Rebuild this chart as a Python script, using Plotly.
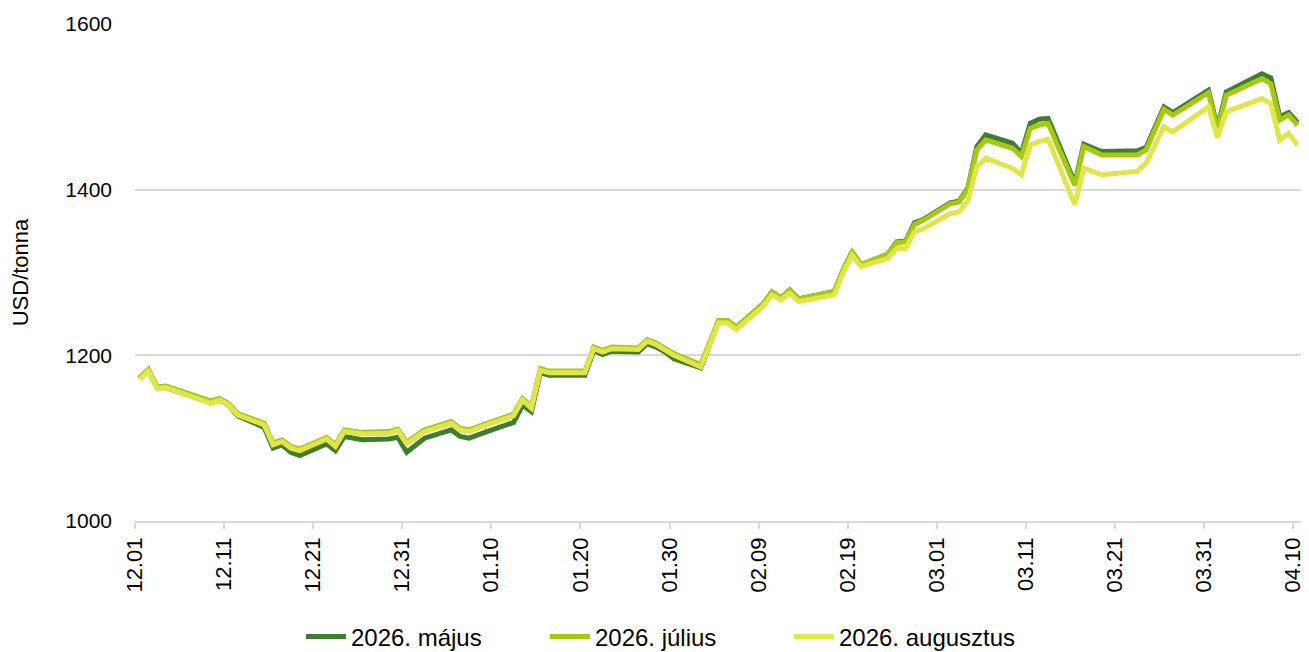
import pandas as pd
import plotly.graph_objects as go

dates = [
    "2025-12-01", "2025-12-02", "2025-12-03", "2025-12-04", "2025-12-09", "2025-12-10",
    "2025-12-11", "2025-12-12", "2025-12-15", "2025-12-16", "2025-12-17", "2025-12-18",
    "2025-12-19", "2025-12-22", "2025-12-23", "2025-12-24", "2025-12-26", "2025-12-29",
    "2025-12-30", "2025-12-31", "2026-01-02", "2026-01-05", "2026-01-06", "2026-01-07",
    "2026-01-09", "2026-01-12", "2026-01-13", "2026-01-14", "2026-01-15", "2026-01-16",
    "2026-01-20", "2026-01-21", "2026-01-22", "2026-01-23", "2026-01-26", "2026-01-27",
    "2026-01-28", "2026-01-29", "2026-01-30", "2026-02-02", "2026-02-04", "2026-02-05",
    "2026-02-06", "2026-02-09", "2026-02-10", "2026-02-11", "2026-02-12", "2026-02-13",
    "2026-02-17", "2026-02-18", "2026-02-19", "2026-02-20", "2026-02-23", "2026-02-24",
    "2026-02-25", "2026-02-26", "2026-02-27", "2026-03-02", "2026-03-03", "2026-03-04",
    "2026-03-05", "2026-03-06", "2026-03-09", "2026-03-10", "2026-03-11", "2026-03-12",
    "2026-03-13", "2026-03-16", "2026-03-17", "2026-03-19", "2026-03-23", "2026-03-24",
    "2026-03-26", "2026-03-27", "2026-03-31", "2026-04-01", "2026-04-02", "2026-04-06",
    "2026-04-07", "2026-04-08", "2026-04-09", "2026-04-10",
]

majus = [
    1172, 1182, 1161, 1161, 1143, 1146, 1140, 1127, 1113, 1088, 1092, 1083,
    1079, 1093, 1085, 1102, 1098, 1099, 1101, 1083, 1100, 1110, 1102, 1100,
    1108, 1119, 1140, 1132, 1179, 1176, 1176, 1206, 1201, 1205, 1204, 1214,
    1210, 1204, 1196, 1185, 1241, 1242, 1234, 1262, 1276, 1269, 1279, 1268,
    1277, 1303, 1325, 1309, 1322, 1337, 1338, 1360, 1364, 1384, 1386, 1402,
    1452, 1466, 1456, 1444, 1480, 1485, 1486, 1408, 1455, 1446, 1447, 1451,
    1500, 1493, 1520, 1475, 1518, 1540, 1535, 1488, 1493, 1481,
]

julius = [
    1173, 1183, 1162, 1163, 1145, 1148, 1142, 1130, 1118, 1094, 1098, 1090,
    1087, 1101, 1092, 1110, 1107, 1108, 1111, 1095, 1110, 1120, 1112, 1110,
    1118, 1129, 1148, 1138, 1184, 1181, 1181, 1210, 1206, 1210, 1209, 1219,
    1215, 1209, 1202, 1189, 1242, 1242, 1234, 1262, 1277, 1270, 1279, 1268,
    1277, 1304, 1325, 1310, 1322, 1336, 1337, 1358, 1363, 1383, 1385, 1401,
    1448, 1460, 1450, 1440, 1474, 1478, 1480, 1405, 1452, 1442, 1442, 1448,
    1497, 1490, 1517, 1472, 1514, 1534, 1528, 1484, 1490, 1478,
]

augusztus = [
    1171, 1181, 1160, 1161, 1142, 1146, 1140, 1128, 1116, 1092, 1096, 1088,
    1085, 1099, 1090, 1108, 1105, 1106, 1109, 1093, 1108, 1118, 1110, 1108,
    1116, 1127, 1146, 1136, 1182, 1179, 1179, 1208, 1204, 1208, 1207, 1217,
    1213, 1207, 1200, 1186, 1239, 1239, 1231, 1259, 1273, 1267, 1275, 1265,
    1273, 1300, 1321, 1307, 1317, 1329, 1329, 1349, 1353, 1371, 1373, 1387,
    1428, 1438, 1426, 1418, 1454, 1458, 1461, 1382, 1426, 1418, 1422, 1432,
    1476, 1470, 1500, 1463, 1494, 1510, 1504, 1460, 1468, 1454,
]

series_names = ["2026. május", "2026. július", "2026. augusztus"]
series_colors = ["#3f7d32", "#a6c812", "#e2e44c"]
series_values = [majus, julius, augusztus]

# points sit in the middle of each day slot (date axis "between tick marks")
xs = pd.to_datetime(dates) + pd.Timedelta(hours=12)

FONT = "Liberation Sans, Arial, sans-serif"

fig = go.Figure()
for name, color, vals in zip(series_names, series_colors, series_values):
    fig.add_trace(go.Scatter(
        x=xs, y=vals, name=name, mode="lines",
        line=dict(color=color, width=5),
    ))

# the page body adds an 8px offset, margins compensate for it
fig.update_layout(
    width=1309, height=652,
    paper_bgcolor="white", plot_bgcolor="white",
    margin=dict(l=127, r=15, t=16, b=139, autoexpand=False),
    font=dict(family=FONT, size=22, color="#000000"),
    showlegend=True,
    legend=dict(
        orientation="h", xref="container", yref="container",
        x=0.2238, xanchor="left", y=0.0353, yanchor="middle",
        font=dict(size=24, color="#000000"),
        entrywidth=189, entrywidthmode="pixels",
        itemwidth=40, tracegroupgap=0,
    ),
    xaxis=dict(
        type="date",
        range=["2025-12-01", "2026-04-11"],
        tick0="2025-12-01", dtick=10 * 86400000,
        tickformat="%m.%d", tickangle=-90,
        ticks="outside", ticklen=6, tickwidth=1.5, tickcolor="#d9d9d9",
        showline=True, linecolor="#d9d9d9", linewidth=1.5,
        showgrid=False, zeroline=False,
        tickfont=dict(size=22, color="#000000"),
    ),
    yaxis=dict(
        range=[1000, 1600], dtick=200, tick0=1000,
        showgrid=True, gridcolor="#d9d9d9", gridwidth=1.5,
        zeroline=False, showline=False, ticks="",
        ticklabelstandoff=22,
        tickfont=dict(size=21, color="#000000"),
        title=dict(text="USD/tonna", font=dict(size=22, color="#000000"), standoff=33),
    ),
)

fig.write_html("out.html")
